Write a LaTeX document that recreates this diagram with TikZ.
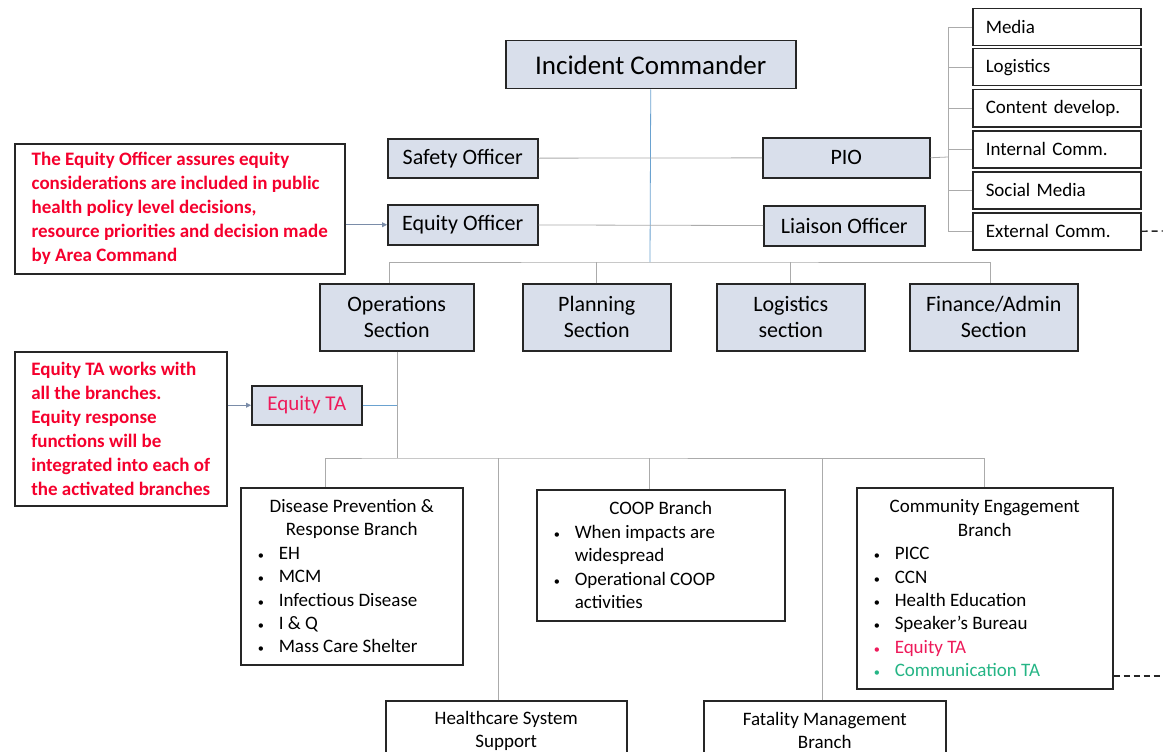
\documentclass[tikz,border=0pt]{standalone}
\usepackage{fontspec}
\setmainfont{Carlito}
\usetikzlibrary{arrows.meta,positioning}
\definecolor{boxblue}{HTML}{D9DFEB}
\definecolor{notered}{HTML}{F5002D}
\definecolor{tared}{HTML}{EE1A5A}
\definecolor{commgreen}{HTML}{25B585}
\definecolor{linegray}{HTML}{ABABAB}
\definecolor{lineblue}{HTML}{6AA2D0}
\definecolor{arrowblue}{HTML}{7A8CA8}
\newcommand{\fs}[2]{\fontsize{#1}{#2}\selectfont}
\newcommand{\itm}[1]{\par\raggedright\hangindent=22pt\hangafter=1\noindent\makebox[22pt][l]{\hspace*{1pt}\scalebox{0.65}{\textbullet}}#1}
\newcommand{\brtext}[2]{\parbox{#1}{\centering #2}}

\begin{document}
\begin{tikzpicture}[x=1pt,y=-1pt,>={Triangle[length=5pt,width=5pt]},
  sect/.style={draw=black!85,line width=1.5pt,fill=boxblue,inner sep=0pt,align=center,font=\fs{22}{26},anchor=north west},
  plain/.style={draw=black!85,line width=1.5pt,fill=white,inner sep=0pt,anchor=north west},
  pr/.style={plain,minimum width=168,minimum height=37,inner xsep=13pt,text width=142pt,align=left,font=\fs{19}{22}},
  note/.style={plain,font=\bfseries\fs{19}{24},text=notered,align=left,inner xsep=14pt},
  branch/.style={plain,font=\fs{19}{23.4},inner xsep=16pt},
  link/.style={draw=linegray,line width=0.8pt},
  bluelink/.style={draw=lineblue,line width=0.8pt},
  extlink/.style={draw=black!85,line width=1.4pt,dash pattern=on 6pt off 4pt},
  arrowlink/.style={draw=arrowblue,line width=0.8pt,->}]
\clip (0,0) rectangle (1163,752);
\fill[white] (0,0) rectangle (1163,752);

% command staff
\node[sect,minimum width=290,minimum height=48,font=\fs{27}{30}] (ic) at (505,40) {Incident Commander};
\node[sect,minimum width=150,minimum height=39] (safety) at (387,138) {Safety Officer};
\node[sect,minimum width=167,minimum height=40] (pio) at (762,137) {PIO};
\node[sect,minimum width=150,minimum height=40] (eqoff) at (387,204) {Equity Officer};
\node[sect,minimum width=161,minimum height=40] (liaison) at (763,205) {Liaison Officer};

% PIO list
\node[pr] (media) at (972,8) {Media};
\node[pr] (logi) at (972,48) {Logistics};
\node[pr] (content) at (972,89) {Content develop.};
\node[pr] (intcomm) at (972,130) {Internal Comm.};
\node[pr] (social) at (972,171) {Social Media};
\node[pr] (extcomm) at (972,212) {External Comm.};
\coordinate (brk) at (948,157);
\coordinate (extend1) at (1163,231);

% notes
\node[note,minimum width=330,minimum height=130] (note1) at (14,143)
  {The Equity Officer assures equity\\considerations are included in public\\health policy level decisions,\\resource priorities and decision made\\by Area Command};
\node[note,minimum width=212,minimum height=154] (note2) at (14,351)
  {Equity TA works with\\all the branches.\\Equity response\\functions will be\\integrated into each of\\the activated branches};

% sections
\node[sect,minimum width=154,minimum height=67] (ops) at (319,283) {Operations\\Section};
\node[sect,minimum width=148,minimum height=67] (plan) at (522,283) {Planning\\Section};
\node[sect,minimum width=148,minimum height=67] (logsec) at (716,283) {Logistics\\section};
\node[sect,minimum width=168,minimum height=67] (fin) at (909,283) {Finance/Admin\\Section};
\node[sect,minimum width=110,minimum height=39,text=tared,font=\fs{21}{24}] (eqta) at (251,385) {Equity TA};
\coordinate (topbus) at (650,262);
\coordinate (opsbus) at (397,458);

% branches
\node[branch,minimum width=222,minimum height=177] (dpr) at (240,487)
  {\brtext{190pt}{Disease Prevention \&\\Response Branch
   \itm{EH}\itm{MCM}\itm{Infectious Disease}\itm{I \& Q}\itm{Mass Care Shelter}}};
\node[branch,minimum width=248,minimum height=131] (coop) at (536,489)
  {\brtext{216pt}{COOP Branch
   \itm{When impacts are widespread}\itm{Operational COOP activities}}};
\node[branch,minimum width=256,minimum height=201] (ceb) at (856,487)
  {\brtext{224pt}{Community Engagement\\Branch
   \itm{PICC}\itm{CCN}\itm{Health Education}\itm{Speaker’s Bureau}
   {\color{tared}\itm{Equity TA}}{\color{commgreen}\itm{Communication TA}}}};
\node[branch,minimum width=241,minimum height=60] (hss) at (385,700)
  {\brtext{209pt}{Healthcare System\\Support}};
\node[branch,minimum width=242,minimum height=60] (fmb) at (703,700)
  {\brtext{210pt}{Fatality Management\\Branch}};
\coordinate (extend2) at (1163,676);

% connectors
\draw[bluelink] (ic.south) -- (topbus);
\draw[link] (safety) -- (pio);
\draw[link] (eqoff) -- (liaison);
\draw[link] (pio.east) -- (brk);
\draw[link] (media.west -| brk) -- (extcomm.west -| brk);
\foreach \n in {media,logi,content,intcomm,social,extcomm}
  \draw[link] (\n.west -| brk) -- (\n.west);
\draw[extlink] (extcomm.east) -- (extend1);
\draw[link] ([xshift=-7pt]ops.north) |- (topbus) -| ([xshift=-3pt]fin.north);
\draw[link] (plan.north) -- (plan.north |- topbus);
\draw[link] (logsec.north) -- (logsec.north |- topbus);
\draw[arrowlink] (note1.east |- eqoff.west) -- (eqoff.west);
\draw[arrowlink] (note2.east |- eqta.west) -- (eqta.west);
\draw[link] (ops.south -| opsbus) -- (opsbus);
\draw[bluelink] (eqta.east) -- (eqta.east -| opsbus);
\draw[link] ([xshift=-26pt]dpr.north) |- (opsbus) -| (ceb.north);
\draw[link] ([xshift=-11pt]coop.north) -- ([xshift=-11pt]coop.north |- opsbus);
\draw[link] ([xshift=-8pt]hss.north) -- ([xshift=-8pt]hss.north |- opsbus);
\draw[link] ([xshift=-2pt]fmb.north) -- ([xshift=-2pt]fmb.north |- opsbus);
\draw[extlink] (ceb.east |- extend2) -- (extend2);
\end{tikzpicture}
\end{document}
